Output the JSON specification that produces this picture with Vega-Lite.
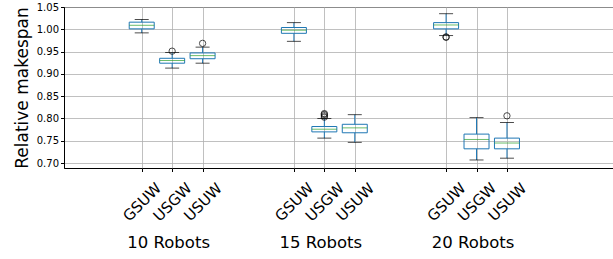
{
  "$schema": "https://vega.github.io/schema/vega-lite/v6.json",
  "width": 550,
  "height": 161,
  "autosize": {"type": "none"},
  "padding": {"left": 64, "top": 7, "right": 0, "bottom": 91},
  "background": "white",
  "config": {
    "view": {"stroke": "#000000", "strokeWidth": 1},
    "font": "DejaVu Sans",
    "axis": {"labelFont": "DejaVu Sans", "titleFont": "DejaVu Sans", "labelColor": "#000000", "titleColor": "#000000"}
  },
  "datasets": {
    "boxes": [
      {"case": "10 Robots|GSUW", "lower": 0.992, "q1": 1.001, "median": 1.009, "q3": 1.016, "upper": 1.022},
      {"case": "10 Robots|USGW", "lower": 0.913, "q1": 0.924, "median": 0.930, "q3": 0.935, "upper": 0.948},
      {"case": "10 Robots|USUW", "lower": 0.924, "q1": 0.934, "median": 0.941, "q3": 0.947, "upper": 0.960},
      {"case": "15 Robots|GSUW", "lower": 0.973, "q1": 0.991, "median": 0.998, "q3": 1.004, "upper": 1.015},
      {"case": "15 Robots|USGW", "lower": 0.756, "q1": 0.770, "median": 0.776, "q3": 0.782, "upper": 0.800},
      {"case": "15 Robots|USUW", "lower": 0.7465, "q1": 0.768, "median": 0.779, "q3": 0.787, "upper": 0.8086},
      {"case": "20 Robots|GSUW", "lower": 0.986, "q1": 1.001, "median": 1.0097, "q3": 1.015, "upper": 1.035},
      {"case": "20 Robots|USGW", "lower": 0.707, "q1": 0.732, "median": 0.753, "q3": 0.765, "upper": 0.802},
      {"case": "20 Robots|USUW", "lower": 0.711, "q1": 0.732, "median": 0.745, "q3": 0.756, "upper": 0.791}
    ],
    "outliers": [
      {"case": "10 Robots|USGW", "value": 0.951},
      {"case": "10 Robots|USUW", "value": 0.9685},
      {"case": "15 Robots|USGW", "value": 0.803},
      {"case": "15 Robots|USGW", "value": 0.806},
      {"case": "15 Robots|USGW", "value": 0.809},
      {"case": "15 Robots|USGW", "value": 0.811},
      {"case": "20 Robots|GSUW", "value": 0.982},
      {"case": "20 Robots|GSUW", "value": 0.983},
      {"case": "20 Robots|USUW", "value": 0.806}
    ]
  },
  "resolve": {"axis": {"x": "independent", "y": "independent"}},
  "layer": [
    {
      "data": {"name": "boxes"},
      "mark": {"type": "rule", "color": "#1f77b4", "strokeWidth": 1},
      "encoding": {
        "x": {
          "field": "case", "type": "nominal",
          "scale": {
            "type": "point",
            "domain": ["pad 1", "pad 2", "10 Robots|GSUW", "10 Robots|USGW", "10 Robots|USUW", "gap a", "gap b", "15 Robots|GSUW", "15 Robots|USGW", "15 Robots|USUW", "gap c", "gap d", "20 Robots|GSUW", "20 Robots|USGW", "20 Robots|USUW", "pad 3", "pad 4", "pad 5"],
            "padding": 0.535,
            "align": 0.517
          },
          "axis": {
            "orient": "bottom",
            "values": ["10 Robots|GSUW", "10 Robots|USGW", "10 Robots|USUW", "15 Robots|GSUW", "15 Robots|USGW", "15 Robots|USUW", "20 Robots|GSUW", "20 Robots|USGW", "20 Robots|USUW"],
            "labelExpr": "split(datum.value, '|')[1]",
            "labelAngle": -45,
            "labelAlign": "center",
            "labelBaseline": "middle",
            "labelPadding": 30,
            "labelFontSize": 15,
            "labelOverlap": false,
            "tickSize": 3.5,
            "tickColor": "#000000",
            "domain": false,
            "grid": true,
            "gridColor": "#b0b0b0",
            "gridWidth": 0.8,
            "title": null
          }
        },
        "y": {
          "field": "lower", "type": "quantitative",
          "scale": {"domain": [0.689, 1.05], "nice": false, "zero": false},
          "axis": {
            "orient": "left",
            "title": "Relative makespan",
            "titleFontSize": 17,
            "titleFontWeight": "normal",
            "titlePadding": 5,
            "values": [0.70, 0.75, 0.80, 0.85, 0.90, 0.95, 1.00, 1.05],
            "format": ".2f",
            "labelFontSize": 10,
            "labelOverlap": false,
            "labelFlush": false,
            "tickSize": 3.5,
            "tickColor": "#000000",
            "domainColor": "#000000",
            "grid": true,
            "gridColor": "#b0b0b0",
            "gridWidth": 0.8
          }
        },
        "y2": {"field": "q1"}
      }
    },
    {
      "data": {"name": "boxes"},
      "mark": {"type": "rule", "color": "#1f77b4", "strokeWidth": 1},
      "encoding": {
        "x": {"field": "case", "type": "nominal", "axis": null},
        "y": {"field": "q3", "type": "quantitative", "axis": null},
        "y2": {"field": "upper"}
      }
    },
    {
      "data": {"name": "boxes"},
      "mark": {"type": "bar", "width": 25, "fill": "transparent", "stroke": "#1f77b4", "strokeWidth": 1},
      "encoding": {
        "x": {"field": "case", "type": "nominal", "axis": null},
        "y": {"field": "q1", "type": "quantitative", "axis": null},
        "y2": {"field": "q3"}
      }
    },
    {
      "data": {"name": "boxes"},
      "mark": {"type": "tick", "color": "#000000", "size": 14, "thickness": 1},
      "encoding": {
        "x": {"field": "case", "type": "nominal", "axis": null},
        "y": {"field": "lower", "type": "quantitative", "axis": null}
      }
    },
    {
      "data": {"name": "boxes"},
      "mark": {"type": "tick", "color": "#000000", "size": 14, "thickness": 1},
      "encoding": {
        "x": {"field": "case", "type": "nominal", "axis": null},
        "y": {"field": "upper", "type": "quantitative", "axis": null}
      }
    },
    {
      "data": {"name": "boxes"},
      "mark": {"type": "tick", "color": "#2ca02c", "size": 25, "thickness": 1},
      "encoding": {
        "x": {
          "field": "case", "type": "nominal",
          "axis": {
            "orient": "bottom",
            "values": ["10 Robots|USGW", "15 Robots|USGW", "20 Robots|USGW"],
            "labelExpr": "split(datum.value, '|')[0]",
            "labelAngle": 0,
            "labelAlign": "center",
            "labelBaseline": "middle",
            "labelPadding": 74,
            "labelOffset": -4,
            "labelFontSize": 16.5,
            "labelOverlap": false,
            "ticks": false,
            "domain": false,
            "grid": false,
            "title": null
          }
        },
        "y": {"field": "median", "type": "quantitative", "axis": null}
      }
    },
    {
      "data": {"name": "outliers"},
      "mark": {"type": "point", "shape": "circle", "filled": false, "color": "#000000", "strokeWidth": 1, "size": 40},
      "encoding": {
        "x": {"field": "case", "type": "nominal", "axis": null},
        "y": {"field": "value", "type": "quantitative", "axis": null}
      }
    }
  ]
}
